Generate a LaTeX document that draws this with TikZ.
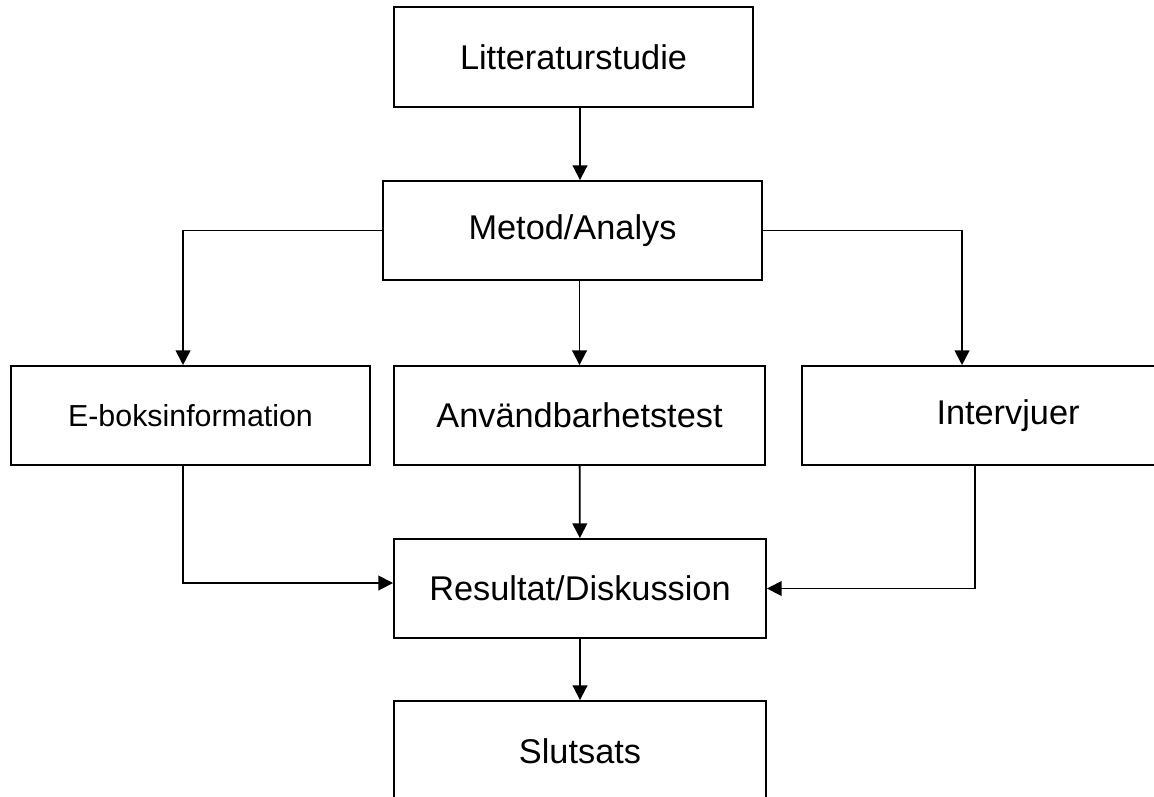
\documentclass[tikz,border=0pt]{standalone}
\usepackage{fontspec}
\setmainfont{Liberation Sans}
\usetikzlibrary{calc,arrows.meta}

\begin{document}
\begin{tikzpicture}[x=0.025cm,y=-0.025cm,
  stage/.style={draw, line width=1.3pt, inner sep=0pt, minimum height=2.5cm,
    font=\fontsize{24.4pt}{29pt}\selectfont},
  link/.style={line width=1.3pt, -{Triangle[length=10.5pt,width=10.5pt]}}]
  \useasboundingbox(0,0)rectangle(1154,796);
  \node[stage, minimum width=8.975cm](litt)at(573.5,57){Litteraturstudie};
  \node[stage, minimum width=9.475cm, minimum height=2.475cm](metod)at(572.5,230.5){Metod/Analys};
  \node[stage, minimum width=8.975cm, minimum height=2.475cm,
    font=\fontsize{21.6pt}{26pt}\selectfont](eboks)at(190.5,415.5){E-boksinformation};
  \node[stage, minimum width=9.275cm, minimum height=2.475cm](anv)at(579.5,415.5){Användbarhetstest};
  \node[stage, minimum width=10.3cm, minimum height=2.475cm](intv)at(1008,415.5){Intervjuer};
  \node[stage, minimum width=9.3cm, minimum height=2.475cm](res)at(580,588.5){Resultat/Diskussion};
  \node[stage, minimum width=9.3cm](slut)at(580,751){Slutsats};
  \draw[link](litt.south -| res)--(metod.north -| res);
  \draw[link](metod.west)-|($(eboks.north west)+(173,0)$);
  \draw[link](metod.south -| anv)--(anv);
  \draw[link](metod.east)-|($(intv.north west)+(161,0)$);
  \draw[link]($(eboks.south west)+(173,0)$)|-($(res.west)+(0,-5.5)$);
  \draw[link](anv)--(res);
  \draw[link]($(intv.south west)+(174,0)$)|-(res.east);
  \draw[link](res)--(slut);
\end{tikzpicture}
\end{document}
